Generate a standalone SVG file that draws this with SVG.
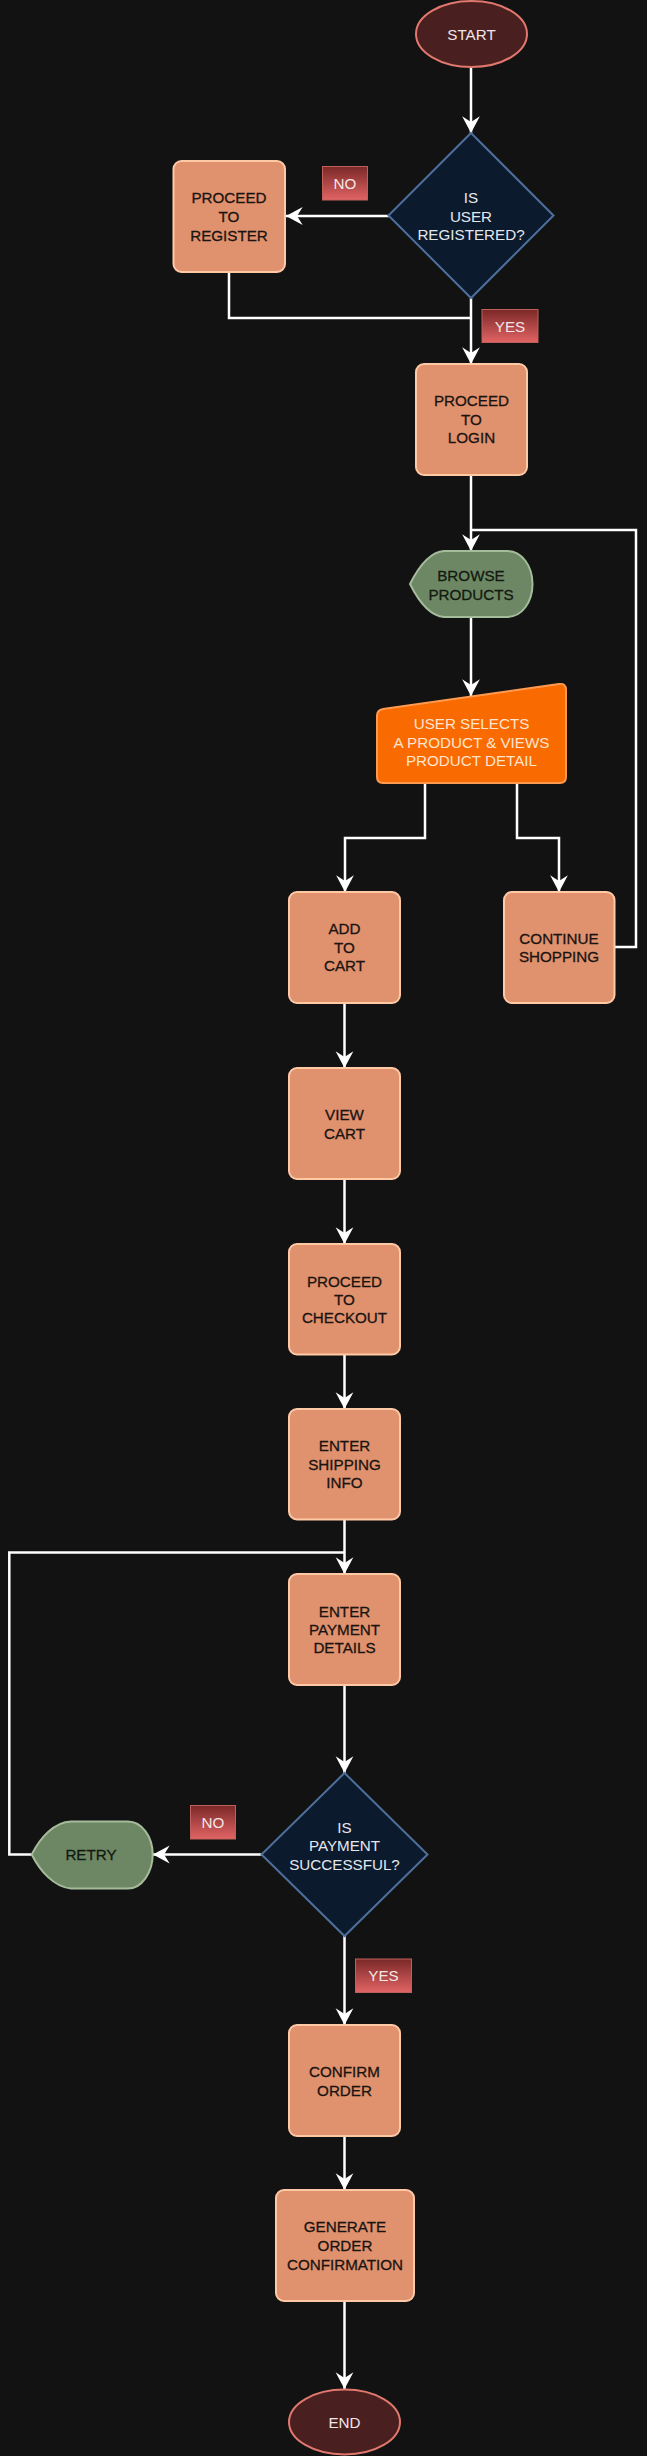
<svg xmlns="http://www.w3.org/2000/svg" width="647" height="2456" viewBox="0 0 647 2456">
<style>
text{font-family:"Liberation Sans",Arial,sans-serif;font-size:15.2px;text-anchor:middle}
.term{fill:#4a1f1f;stroke:#e0786e;stroke-width:2}
.term-t{fill:#f0e6e6}
.dec{fill:#0c1a2e;stroke:#4d6f9c;stroke-width:2}
.dec-t{fill:#e4e8ee}
.proc{fill:#e0916e;stroke:#ffc9a6;stroke-width:2}
.proc-t{fill:#1a1410;stroke:#1a1410;stroke-width:0.3}
.disp{fill:#6d8764;stroke:#a5bc9b;stroke-width:2}
.disp-t{fill:#121a10;stroke:#121a10;stroke-width:0.3}
.man{fill:#f96b00;stroke:#ff9a50;stroke-width:2}
.man-t{fill:#ffe4cf}
.lbl{fill:url(#lg);stroke:#c0605a;stroke-width:1}
.lbl-t{fill:#f4e6e6}
.edge{fill:none;stroke:#ffffff;stroke-width:2.5}
.arr{fill:none;stroke:#ffffff;stroke-width:2.5;marker-end:url(#ah)}
</style>
<defs>
<linearGradient id="lg" x1="0" y1="0" x2="0" y2="1">
<stop offset="0" stop-color="#7a2828"/>
<stop offset="1" stop-color="#e26464"/>
</linearGradient>
<marker id="ah" markerUnits="userSpaceOnUse" markerWidth="20" markerHeight="20" viewBox="-16 -9 17 18" refX="0" refY="0" orient="auto">
<path d="M0,0 L-15,-8 L-10,0 L-15,8 Z" fill="#ffffff"/>
</marker>
</defs>
<rect x="0" y="0" width="647" height="2456" fill="#121212"/>

<g id="connectors">
<path class="arr" d="M471,67 V133"/>
<path class="arr" d="M389,216 H286"/>
<path class="arr" d="M471,298 V364"/>
<path class="edge" d="M229,272 V318 H471"/>
<path class="arr" d="M471,475 V551"/>
<path class="arr" d="M471,617 V696"/>
<path class="arr" d="M425,783 V838 H345 V892"/>
<path class="arr" d="M517,783 V838 H559 V892"/>
<path class="edge" d="M614,947 H636 V530 H471"/>
<path class="arr" d="M344.5,1003 V1068"/>
<path class="arr" d="M344.5,1179 V1244"/>
<path class="arr" d="M344.5,1354 V1409"/>
<path class="arr" d="M344.5,1519 V1574"/>
<path class="arr" d="M344.5,1685 V1773"/>
<path class="arr" d="M262,1854.5 H153"/>
<path class="edge" d="M31.7,1854.5 H9.3 V1552.5 H344.5"/>
<path class="arr" d="M344.5,1936 V2025"/>
<path class="arr" d="M344.5,2136 V2190"/>
<path class="arr" d="M344.5,2301 V2389"/>
</g>

<g id="start">
<ellipse class="term" cx="471.5" cy="34" rx="55.5" ry="33"/>
<text class="term-t" x="471.5" y="39.5">START</text>
</g>

<g id="is-user-registered">
<path class="dec" d="M471,133 L553.5,215.5 L471,298 L388.5,215.5 Z"/>
<text class="dec-t" x="471" y="203">IS</text>
<text class="dec-t" x="471" y="221.5">USER</text>
<text class="dec-t" x="471" y="240">REGISTERED?</text>
</g>

<g id="label-no-1">
<rect class="lbl" x="322.5" y="166.5" width="45" height="33.5"/>
<text class="lbl-t" x="345" y="188.5">NO</text>
</g>

<g id="proceed-to-register">
<rect class="proc" x="173.5" y="161" width="111.5" height="111" rx="8"/>
<text class="proc-t" x="229" y="202.5">PROCEED</text>
<text class="proc-t" x="229" y="221.5">TO</text>
<text class="proc-t" x="229" y="240.5">REGISTER</text>
</g>

<g id="label-yes-1">
<rect class="lbl" x="482" y="309.5" width="56" height="33"/>
<text class="lbl-t" x="510" y="331.5">YES</text>
</g>

<g id="proceed-to-login">
<rect class="proc" x="416" y="364" width="111" height="111" rx="8"/>
<text class="proc-t" x="471.5" y="406.2">PROCEED</text>
<text class="proc-t" x="471.5" y="424.8">TO</text>
<text class="proc-t" x="471.5" y="443.2">LOGIN</text>
</g>

<g id="browse-products">
<path class="disp" d="M410,584 C418,568 430,552 444,551 L507,551 C522,551 532.5,566 532.5,584 C532.5,602 522,617 507,617 L444,617 C430,616 418,600 410,584 Z"/>
<text class="disp-t" x="471" y="580.5">BROWSE</text>
<text class="disp-t" x="471" y="599.5">PRODUCTS</text>
</g>

<g id="user-selects-product">
<path class="man" d="M377,716 Q377,710 383,709 L559,684 Q566,683 566,690 L566,777 Q566,783 560,783 L383,783 Q377,783 377,777 Z"/>
<text class="man-t" x="471.5" y="728.8">USER SELECTS</text>
<text class="man-t" x="471.5" y="747.8">A PRODUCT &amp; VIEWS</text>
<text class="man-t" x="471.5" y="766.2">PRODUCT DETAIL</text>
</g>

<g id="add-to-cart">
<rect class="proc" x="289" y="892" width="111" height="111" rx="8"/>
<text class="proc-t" x="344.5" y="934.2">ADD</text>
<text class="proc-t" x="344.5" y="952.5">TO</text>
<text class="proc-t" x="344.5" y="970.8">CART</text>
</g>

<g id="continue-shopping">
<rect class="proc" x="504" y="892" width="110.5" height="111" rx="8"/>
<text class="proc-t" x="559" y="943.8">CONTINUE</text>
<text class="proc-t" x="559" y="962.2">SHOPPING</text>
</g>

<g id="view-cart">
<rect class="proc" x="289" y="1068" width="111" height="111" rx="8"/>
<text class="proc-t" x="344.5" y="1120">VIEW</text>
<text class="proc-t" x="344.5" y="1138.5">CART</text>
</g>

<g id="proceed-to-checkout">
<rect class="proc" x="289" y="1244" width="111" height="110.5" rx="8"/>
<text class="proc-t" x="344.5" y="1286.5">PROCEED</text>
<text class="proc-t" x="344.5" y="1305">TO</text>
<text class="proc-t" x="344.5" y="1323.2">CHECKOUT</text>
</g>

<g id="enter-shipping-info">
<rect class="proc" x="289" y="1409" width="111" height="110.5" rx="8"/>
<text class="proc-t" x="344.5" y="1451">ENTER</text>
<text class="proc-t" x="344.5" y="1469.5">SHIPPING</text>
<text class="proc-t" x="344.5" y="1487.8">INFO</text>
</g>

<g id="enter-payment-details">
<rect class="proc" x="289" y="1574" width="111" height="111" rx="8"/>
<text class="proc-t" x="344.5" y="1616.5">ENTER</text>
<text class="proc-t" x="344.5" y="1634.8">PAYMENT</text>
<text class="proc-t" x="344.5" y="1653.2">DETAILS</text>
</g>

<g id="is-payment-successful">
<path class="dec" d="M344.5,1773 L427.5,1854.5 L344.5,1936 L261.5,1854.5 Z"/>
<text class="dec-t" x="344.5" y="1833.2">IS</text>
<text class="dec-t" x="344.5" y="1851.2">PAYMENT</text>
<text class="dec-t" x="344.5" y="1869.8">SUCCESSFUL?</text>
</g>

<g id="label-no-2">
<rect class="lbl" x="190.5" y="1805.5" width="45" height="33.5"/>
<text class="lbl-t" x="213" y="1827.5">NO</text>
</g>

<g id="retry">
<path class="disp" d="M31.7,1854.5 C40,1838 54,1822 71,1821.5 L128,1821.5 C142,1821.5 152.7,1837 152.7,1854.5 C152.7,1872 142,1888.5 128,1888.5 L71,1888.5 C54,1887 40,1871 31.7,1854.5 Z"/>
<text class="disp-t" x="91" y="1860">RETRY</text>
</g>

<g id="label-yes-2">
<rect class="lbl" x="355.5" y="1959" width="56" height="33.5"/>
<text class="lbl-t" x="383.5" y="1981">YES</text>
</g>

<g id="confirm-order">
<rect class="proc" x="289" y="2025" width="111" height="111" rx="8"/>
<text class="proc-t" x="344.5" y="2077">CONFIRM</text>
<text class="proc-t" x="344.5" y="2096">ORDER</text>
</g>

<g id="generate-order-confirmation">
<rect class="proc" x="276" y="2190" width="138" height="111" rx="8"/>
<text class="proc-t" x="345" y="2231.5">GENERATE</text>
<text class="proc-t" x="345" y="2251">ORDER</text>
<text class="proc-t" x="345" y="2269.5">CONFIRMATION</text>
</g>

<g id="end">
<ellipse class="term" cx="344.5" cy="2422" rx="55.5" ry="32.5"/>
<text class="term-t" x="344.5" y="2427.5">END</text>
</g>
</svg>
